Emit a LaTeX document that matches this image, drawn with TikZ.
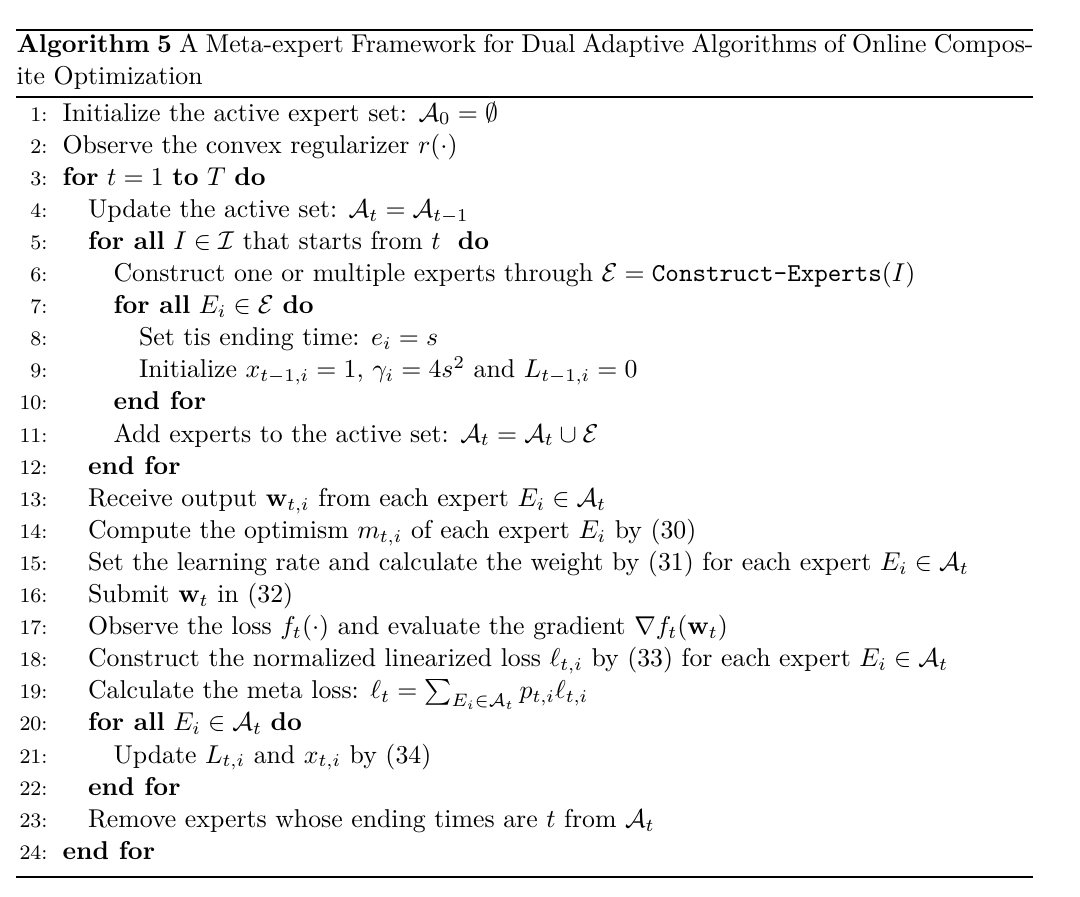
\documentclass[tikz,border=0pt]{standalone}
\usepackage{amsmath,amssymb}
\newlength{\capw}
\setlength{\capw}{394.6pt}
\begin{document}
\begin{tikzpicture}[x=0.388pt,y=-0.388pt,
  lnum/.style={anchor=base east,inner sep=0pt,font=\footnotesize},
  ltext/.style={anchor=base west,inner sep=0pt},
  captext/.style={anchor=base west,inner sep=0pt}]
\useasboundingbox (0,0) rectangle (1080,896);
% rules
\coordinate (tl) at (16,30); \coordinate (tr) at (1033,30);
\coordinate (ml) at (16,97); \coordinate (mr) at (1033,97);
\coordinate (bl) at (16,877); \coordinate (br) at (1033,877);
\draw[line width=0.8pt] (tl) -- (tr);
\draw[line width=0.5pt] (ml) -- (mr);
\draw[line width=0.5pt] (bl) -- (br);
% caption
\node[captext] (c1) at (16,52) {\spaceskip=3.33pt minus 3pt\hbox to \capw{\textbf{Algorithm 5} A Meta-expert Framework for Dual Adaptive Algorithms of Online Compos-}};
\node[captext] (c2) at (16,84) {ite Optimization};
% line numbers
\foreach \k in {1,...,24}{\node[lnum] (n\k) at (48,{121+(\k-1)*32.1}) {\k:};}
% lines
\node[ltext] (l1) at (62,{121+0*32.1}) {Initialize the active expert set: $\mathcal{A}_0=\emptyset$};
\node[ltext] (l2) at (62,{121+1*32.1}) {Observe the convex regularizer $r(\cdot)$};
\node[ltext] (l3) at (62,{121+2*32.1}) {\textbf{for} $t=1$ \textbf{to} $T$ \textbf{do}};
\node[ltext] (l4) at (87.5,{121+3*32.1}) {Update the active set: $\mathcal{A}_t=\mathcal{A}_{t-1}$};
\node[ltext] (l5) at (87.5,{121+4*32.1}) {\textbf{for all} $I\in\mathcal{I}$ that starts from $t$\ \ \textbf{do}};
\node[ltext] (l6) at (113,{121+5*32.1}) {Construct one or multiple experts through $\mathcal{E}=\texttt{Construct-Experts}(I)$};
\node[ltext] (l7) at (113,{121+6*32.1}) {\textbf{for all} $E_i\in\mathcal{E}$ \textbf{do}};
\node[ltext] (l8) at (138.5,{121+7*32.1}) {Set tis ending time: $e_i=s$};
\node[ltext] (l9) at (138.5,{121+8*32.1}) {Initialize $x_{t-1,i}=1$, $\gamma_i=4s^2$ and $L_{t-1,i}=0$};
\node[ltext] (l10) at (113,{121+9*32.1}) {\textbf{end for}};
\node[ltext] (l11) at (113,{121+10*32.1}) {Add experts to the active set: $\mathcal{A}_t=\mathcal{A}_t\cup\mathcal{E}$};
\node[ltext] (l12) at (87.5,{121+11*32.1}) {\textbf{end for}};
\node[ltext] (l13) at (87.5,{121+12*32.1}) {Receive output $\mathbf{w}_{t,i}$ from each expert $E_i\in\mathcal{A}_t$};
\node[ltext] (l14) at (87.5,{121+13*32.1}) {Compute the optimism $m_{t,i}$ of each expert $E_i$ by (30)};
\node[ltext] (l15) at (87.5,{121+14*32.1}) {Set the learning rate and calculate the weight by (31) for each expert $E_i\in\mathcal{A}_t$};
\node[ltext] (l16) at (87.5,{121+15*32.1}) {Submit $\mathbf{w}_t$ in (32)};
\node[ltext] (l17) at (87.5,{121+16*32.1}) {Observe the loss $f_t(\cdot)$ and evaluate the gradient $\nabla f_t(\mathbf{w}_t)$};
\node[ltext] (l18) at (87.5,{121+17*32.1}) {Construct the normalized linearized loss $\ell_{t,i}$ by (33) for each expert $E_i\in\mathcal{A}_t$};
\node[ltext] (l19) at (87.5,{121+18*32.1}) {Calculate the meta loss: $\ell_t=\sum_{E_i\in\mathcal{A}_t}p_{t,i}\ell_{t,i}$};
\node[ltext] (l20) at (87.5,{121+19*32.1}) {\textbf{for all} $E_i\in\mathcal{A}_t$ \textbf{do}};
\node[ltext] (l21) at (113,{121+20*32.1}) {Update $L_{t,i}$ and $x_{t,i}$ by (34)};
\node[ltext] (l22) at (87.5,{121+21*32.1}) {\textbf{end for}};
\node[ltext] (l23) at (87.5,{121+22*32.1}) {Remove experts whose ending times are $t$ from $\mathcal{A}_t$};
\node[ltext] (l24) at (62,{121+23*32.1}) {\textbf{end for}};
\end{tikzpicture}
\end{document}
